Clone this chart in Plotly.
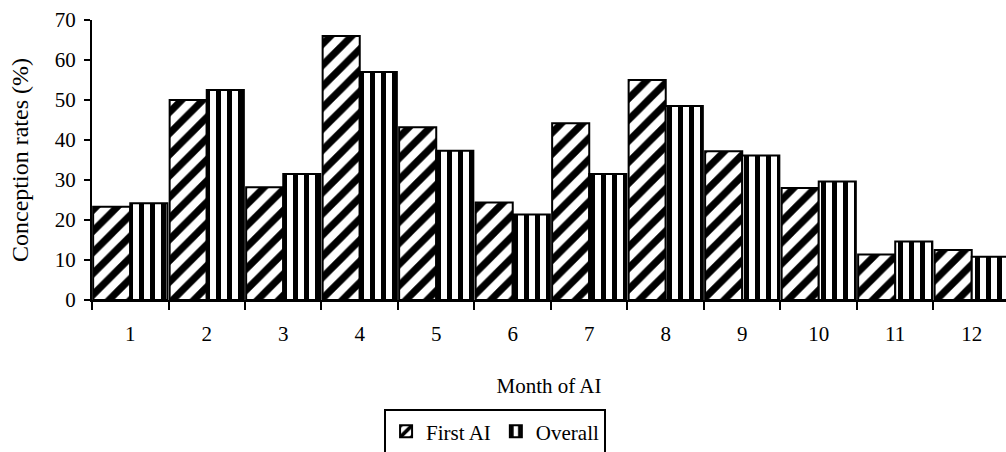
import plotly.graph_objects as go

# Conception rates (%) by month of artificial insemination
months = [str(m) for m in range(1, 13)]
first_ai = [23.3, 50.0, 28.2, 66.0, 43.2, 24.4, 44.2, 55.0, 37.2, 28.0, 11.4, 12.5]
overall = [24.2, 52.5, 31.5, 57.0, 37.3, 21.4, 31.5, 48.5, 36.1, 29.6, 14.6, 10.8]

FONT = "Liberation Serif, Times New Roman, serif"

fig = go.Figure()
fig.add_trace(go.Bar(
    name="First AI", x=months, y=first_ai,
    marker=dict(color="white", line=dict(color="black", width=2),
                pattern=dict(shape="/", fgcolor="black", bgcolor="white",
                             size=15, solidity=0.47, fillmode="replace")),
))
fig.add_trace(go.Bar(
    name="Overall", x=months, y=overall,
    marker=dict(color="white", line=dict(color="black", width=2),
                pattern=dict(shape="|", fgcolor="black", bgcolor="white",
                             size=11, solidity=0.45, fillmode="replace")),
))

fig.update_layout(
    width=1006, height=452,
    margin=dict(l=92, r=0, t=20, b=152, autoexpand=False),
    paper_bgcolor="white", plot_bgcolor="white",
    font=dict(family=FONT, size=21, color="black"),
    barmode="group", bargap=0.03, bargroupgap=0,
    showlegend=True,
    legend=dict(orientation="h", x=0.441, xanchor="center", y=-0.39, yanchor="top",
                bordercolor="black", borderwidth=2, bgcolor="white",
                font=dict(family=FONT, size=21, color="black"), traceorder="normal"),
)
fig.update_xaxes(
    type="category", range=[-0.5, 11.448],
    showline=True, linecolor="black", linewidth=2,
    ticks="outside", ticklen=8, tickwidth=2, tickcolor="black", tickson="boundaries",
    showgrid=False, zeroline=False, ticklabelstandoff=14,
    tickfont=dict(family=FONT, size=21, color="black"),
    title=dict(text="Month of AI", font=dict(family=FONT, size=21, color="black"), standoff=33),
)
fig.update_yaxes(
    range=[0, 70], dtick=10,
    showline=True, linecolor="black", linewidth=2,
    ticks="outside", ticklen=6, tickwidth=2, tickcolor="black",
    showgrid=False, zeroline=False, ticklabelstandoff=4,
    tickfont=dict(family=FONT, size=21, color="black"),
    title=dict(text="Conception rates (%)", font=dict(family=FONT, size=24, color="black"), standoff=19),
)

fig.write_html("out.html")
